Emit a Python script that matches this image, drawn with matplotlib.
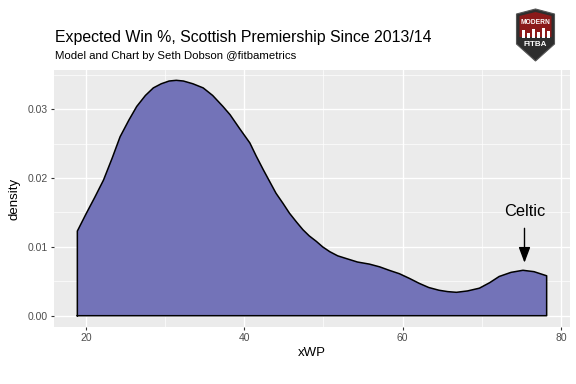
import matplotlib
matplotlib.use("Agg")
import matplotlib.pyplot as plt
from matplotlib.patches import Polygon, Rectangle

plt.rcParams["font.family"] = ["Liberation Sans", "DejaVu Sans"]

# density curve of xWP
xwp = [18.9, 20.0, 21.1, 22.2, 23.3, 24.3, 25.4, 26.4, 27.5, 28.5, 29.5, 30.5,
       31.4, 32.3, 33.5, 34.8, 36.0, 37.3, 38.2, 39.4, 40.7, 41.5, 42.4, 43.2,
       44.0, 44.9, 45.7, 46.6, 47.4, 48.2, 49.1, 49.9, 50.8, 51.8, 52.9, 54.3,
       55.8, 57.1, 58.3, 59.6, 60.9, 62.1, 63.3, 64.6, 65.7, 66.8, 68.2, 69.7,
       71.0, 72.2, 73.7, 75.2, 76.6, 78.2]
density = [0.0123, 0.0148, 0.0172, 0.0197, 0.0229, 0.0260, 0.0284, 0.0304, 0.0320,
           0.0331, 0.0337, 0.0341, 0.0342, 0.0341, 0.0337, 0.0331, 0.0320, 0.0304,
           0.0292, 0.0272, 0.0251, 0.0232, 0.0212, 0.0195, 0.0178, 0.0163, 0.0149,
           0.0136, 0.0125, 0.0116, 0.0108, 0.0100, 0.0093, 0.0087, 0.0083, 0.0078,
           0.0075, 0.0071, 0.0066, 0.0061, 0.0054, 0.0047, 0.0041, 0.0037, 0.0035,
           0.0034, 0.0036, 0.0040, 0.0048, 0.0057, 0.0063, 0.0066, 0.0064, 0.0058]

x_ticks = [20, 40, 60, 80]
y_ticks = [0.00, 0.01, 0.02, 0.03]
y_labels = ["0.00", "0.01", "0.02", "0.03"]

fig = plt.figure(figsize=(5.76, 3.84), dpi=100)
ax = fig.add_axes([54 / 576, 1 - 327 / 384, 516 / 576, 257 / 384])
ax.set_facecolor("#EBEBEB")

# grid, ggplot style
for v in [30, 50, 70]:
    ax.axvline(v, color="white", lw=0.5, zorder=0)
for v in x_ticks:
    ax.axvline(v, color="white", lw=1.0, zorder=0)
for v in [0.005, 0.015, 0.025, 0.035]:
    ax.axhline(v, color="white", lw=0.5, zorder=0)
for v in y_ticks:
    ax.axhline(v, color="white", lw=1.0, zorder=0)

xs = [xwp[0]] + xwp + [xwp[-1]]
ys = [0.0] + density + [0.0]
ax.fill(xs, ys, facecolor="#7373B8", edgecolor="none", zorder=2)
ax.plot(xs + [xs[0]], ys + [ys[0]], color="black", lw=1.1, zorder=3)

ax.annotate("Celtic", xy=(75.4, 0.0077), xytext=(75.4, 0.0152),
            ha="center", va="center", fontsize=11.8,
            arrowprops=dict(arrowstyle="-|>,head_width=0.3,head_length=0.8",
                            color="black", lw=1.0, shrinkA=5, shrinkB=0))

ax.set_xlim(15.95, 81.15)
ax.set_ylim(-0.00164, 0.0357)
ax.set_xticks(x_ticks)
ax.set_yticks(y_ticks)
ax.set_yticklabels(y_labels)
ax.tick_params(colors="#333333", labelcolor="#4D4D4D", labelsize=7.5,
               length=2.5, width=0.8, pad=2)
for s in ax.spines.values():
    s.set_visible(False)
ax.set_xlabel("xWP", fontsize=9.5, labelpad=3)
ax.set_ylabel("density", fontsize=9.5, labelpad=5)

fig.text(55 / 576, 1 - 42 / 384, "Expected Win %, Scottish Premiership Since 2013/14",
         fontsize=11.4, color="black", va="baseline")
fig.text(55 / 576, 1 - 59 / 384, "Model and Chart by Seth Dobson @fitbametrics",
         fontsize=8.2, color="black", va="baseline")

# badge in the top right corner
W, H = 576, 384
def fp(pts):
    return [(x / W, 1 - y / H) for x, y in pts]

cx = 535.5
shield = fp([(cx - 19, 14), (cx, 9), (cx + 19, 14), (cx + 19, 44), (cx, 61), (cx - 19, 44)])
fig.patches.append(Polygon(shield, closed=True, facecolor="#2E2E2E",
                           edgecolor="#555555", lw=0.8, transform=fig.transFigure))
band = fp([(cx - 16, 16), (cx, 12), (cx + 16, 16), (cx + 16, 37), (cx - 16, 37)])
fig.patches.append(Polygon(band, closed=True, facecolor="#8B1A1A",
                           edgecolor="none", transform=fig.transFigure))
for dx, bh in [(-14, 8), (-9, 5), (-4, 9), (1, 6), (6, 10), (11, 7)]:
    fig.patches.append(Rectangle(((cx + dx) / W, 1 - 38 / H), 3 / W, bh / H,
                                 facecolor="white", edgecolor="none",
                                 transform=fig.transFigure))
fig.text(cx / W, 1 - 22 / H, "MODERN", fontsize=4.8, color="white",
         fontweight="bold", ha="center", va="center")
fig.text(cx / W, 1 - 45 / H, "FITBA", fontsize=5.8, color="white",
         fontweight="bold", ha="center", va="center")

fig.savefig("out.png", dpi=100, facecolor="white")
